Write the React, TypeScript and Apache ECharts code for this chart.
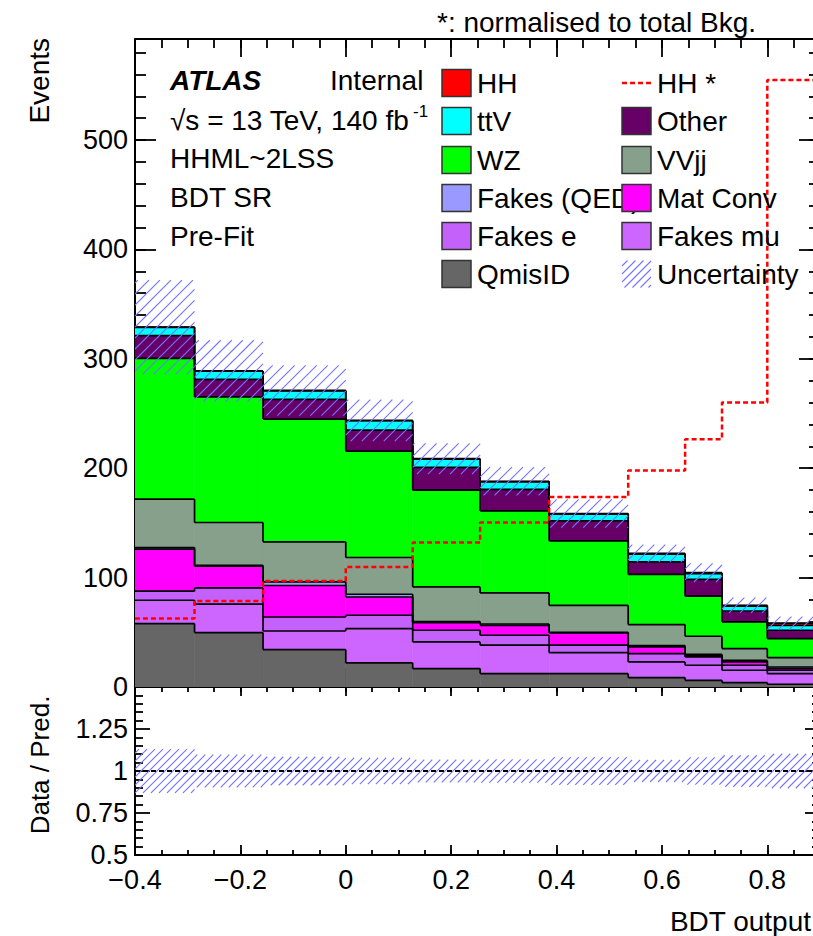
import React, { useEffect, useRef } from 'react';
import * as echarts from 'echarts';

// ---------------- data ----------------
const binEdges = [-0.4, -0.287, -0.157, 0.0, 0.127, 0.255, 0.386, 0.536, 0.644, 0.714, 0.8, 0.9];

const qmisID = [58.0, 49.8, 34.2, 22.0, 16.8, 12.3, 12.2, 8.6, 6.1, 4.0, 2.5];
const fakesMu = [21.3, 25.9, 17.0, 31.4, 24.4, 25.9, 19.2, 14.3, 13.8, 11.3, 9.7];
const fakesE = [8.3, 14.9, 12.8, 12.2, 10.7, 9.1, 6.8, 7.6, 7.6, 4.6, 3.1];
const matConv = [38.4, 19.8, 28.8, 16.7, 7.0, 9.1, 11.2, 6.1, 1.5, 3.0, 1.5];
const fakesQED = [1.5, 0.9, 3.3, 2.5, 0.9, 1.2, 0.6, 1.3, 0.9, 1.5, 1.5];
const vvjj = [44.2, 39.1, 36.6, 33.6, 31.7, 28.4, 24.7, 19.2, 16.5, 10.7, 8.6];
const wz = [128.7, 114.9, 112.2, 97.2, 88.5, 75.0, 58.9, 45.9, 36.6, 24.4, 17.4];
const other = [20.8, 15.9, 18.0, 19.3, 20.8, 19.6, 18.3, 11.4, 15.3, 10.0, 7.6];
const ttV = [7.6, 7.6, 7.9, 8.5, 7.5, 7.0, 6.1, 7.0, 5.4, 4.3, 4.5];
const hh = [0.2, 0.2, 0.3, 0.3, 0.4, 0.5, 0.6, 0.7, 0.8, 0.9, 2.0];

const hhNorm = [62.6, 78.7, 96.9, 109.8, 132.0, 150.4, 173.8, 198.0, 226.6, 260.0, 555.0];
const uncertainty = [43, 28, 23, 19, 14, 13, 13, 8, 8.5, 7, 6];

const yMainTicks = [0, 100, 200, 300, 400, 500];
const yRatioTicks = [0.5, 0.75, 1, 1.25];

// ---------------- styling ----------------
const FONT = '"Liberation Sans", Arial, Helvetica, sans-serif';
const HATCH = '#7474ff';
const XMIN = -0.4;
const XMAX = 0.9;
const YMAX = 592.4;

const COLORS: Record<string, string> = {
  'QmisID': '#666666',
  'Fakes mu': '#cc66ff',
  'Fakes e': '#c561fb',
  'Mat Conv': '#ff00ff',
  'Fakes (QED)': '#9999ff',
  'VVjj': '#86a08c',
  'WZ': '#00ff00',
  'Other': '#660066',
  'ttV': '#00ffff',
  'HH': '#ff0000',
};

const stackOrder: { name: string; values: number[] }[] = [
  { name: 'QmisID', values: qmisID },
  { name: 'Fakes mu', values: fakesMu },
  { name: 'Fakes e', values: fakesE },
  { name: 'Mat Conv', values: matConv },
  { name: 'Fakes (QED)', values: fakesQED },
  { name: 'VVjj', values: vvjj },
  { name: 'WZ', values: wz },
  { name: 'Other', values: other },
  { name: 'ttV', values: ttV },
  { name: 'HH', values: hh },
];

function hatchSegments(x0: number, y0: number, x1: number, y1: number, step: number) {
  const segs: number[][] = [];
  const kStart = Math.ceil((x0 + y0) / step);
  const kEnd = Math.floor((x1 + y1) / step);
  for (let k = kStart; k <= kEnd; k++) {
    const c = k * step;
    const xa = Math.max(x0, c - y1);
    const xb = Math.min(x1, c - y0);
    if (xb - xa > 0.5) segs.push([xa, c - xa, xb, c - xb]);
  }
  return segs;
}

function buildOption() {
  const nb = binEdges.length - 1;
  let base = new Array(nb).fill(0);
  const series: any[] = [];

  stackOrder.forEach((layer) => {
    const tops = base.map((b: number, i: number) => b + layer.values[i]);
    const data = layer.values.map((_, i) => [
      binEdges[i], binEdges[i + 1], base[i], tops[i], i > 0 ? tops[i - 1] : tops[i],
    ]);
    base = tops;
    const color = COLORS[layer.name];
    series.push({
      type: 'custom',
      name: layer.name,
      xAxisIndex: 0,
      yAxisIndex: 0,
      data,
      encode: { x: [0, 1], y: [2, 3] },
      clip: true,
      renderItem: (params: any, api: any) => {
        const x0 = api.value(0), x1 = api.value(1), b = api.value(2), t = api.value(3), pt = api.value(4);
        const bl = api.coord([x0, b]);
        const tr = api.coord([x1, t]);
        const pv = api.coord([x0, pt]);
        const children: any[] = [
          {
            type: 'rect',
            shape: { x: bl[0], y: tr[1], width: tr[0] - bl[0], height: bl[1] - tr[1] },
            style: { fill: color, stroke: color, lineWidth: 0.6 },
            z2: 1,
          },
          {
            type: 'line',
            shape: { x1: bl[0], y1: tr[1], x2: tr[0], y2: tr[1] },
            style: { stroke: '#000', lineWidth: 1.7 },
            z2: 10,
          },
        ];
        if (params.dataIndex > 0) {
          children.push({
            type: 'line',
            shape: { x1: bl[0], y1: pv[1], x2: bl[0], y2: tr[1] },
            style: { stroke: '#000', lineWidth: 1.7 },
            z2: 10,
          });
        }
        return { type: 'group', children };
      },
    });
  });

  const totals = base;

  // uncertainty band, main panel
  series.push({
    type: 'custom',
    name: 'Uncertainty',
    xAxisIndex: 0,
    yAxisIndex: 0,
    data: totals.map((t: number, i: number) => [binEdges[i], binEdges[i + 1], t - uncertainty[i], t + uncertainty[i]]),
    encode: { x: [0, 1], y: [2, 3] },
    clip: true,
    renderItem: (params: any, api: any) => {
      const a = api.coord([api.value(0), api.value(3)]);
      const b = api.coord([api.value(1), api.value(2)]);
      const segs = hatchSegments(a[0], a[1], b[0], b[1], 11);
      return {
        type: 'group',
        children: segs.map((s) => ({
          type: 'line',
          shape: { x1: s[0], y1: s[1], x2: s[2], y2: s[3] },
          style: { stroke: HATCH, lineWidth: 1.1 },
          z2: 20,
        })),
      };
    },
  });

  // HH normalised, dashed step line
  const hhPts: number[][] = hhNorm.map((v, i) => [binEdges[i], v]);
  hhPts.push([binEdges[nb], hhNorm[nb - 1]]);
  series.push({
    type: 'line',
    name: 'HH *',
    xAxisIndex: 0,
    yAxisIndex: 0,
    data: hhPts,
    step: 'end',
    symbol: 'none',
    clip: true,
    z: 5,
    lineStyle: { color: '#ff0000', width: 2.5, type: [5, 3] },
  });

  // ratio band
  series.push({
    type: 'custom',
    name: 'RatioUnc',
    xAxisIndex: 4,
    yAxisIndex: 4,
    data: totals.map((t: number, i: number) => {
      const r = uncertainty[i] / t;
      return [binEdges[i], binEdges[i + 1], 1 - r, 1 + r];
    }),
    encode: { x: [0, 1], y: [2, 3] },
    clip: true,
    renderItem: (params: any, api: any) => {
      const a = api.coord([api.value(0), api.value(3)]);
      const b = api.coord([api.value(1), api.value(2)]);
      const segs = hatchSegments(a[0], a[1], b[0], b[1], 8);
      return {
        type: 'group',
        children: segs.map((s) => ({
          type: 'line',
          shape: { x1: s[0], y1: s[1], x2: s[2], y2: s[3] },
          style: { stroke: HATCH, lineWidth: 1.1 },
          z2: 20,
        })),
      };
    },
  });

  series.push({
    type: 'line',
    name: 'RatioOne',
    xAxisIndex: 4,
    yAxisIndex: 4,
    data: [[binEdges[0], 1], [binEdges[nb], 1]],
    symbol: 'none',
    z: 6,
    lineStyle: { color: '#000', width: 2, type: [5, 3] },
  });

  const tickStyle = { color: '#000', width: 1.8 };
  const labelStyle = { fontFamily: FONT, fontSize: 27, color: '#000' };

  const xAxisDef = (grid: number, pos: string, interval: number, len: number, line: boolean, labels: boolean) => ({
    type: 'value',
    gridIndex: grid,
    position: pos,
    min: XMIN,
    max: XMAX,
    interval,
    axisLine: { show: line, onZero: false, lineStyle: { color: '#000', width: 2 } },
    axisTick: { show: true, inside: true, length: len, lineStyle: tickStyle },
    axisLabel: labels
      ? {
          show: true,
          margin: 11,
          showMaxLabel: false,
          ...labelStyle,
          formatter: (v: number) => {
            const r = Math.round(v * 10) / 10;
            if (r === 0) return '0';
            return r < 0 ? '\u2212' + Math.abs(r) : String(r);
          },
        }
      : { show: false },
    splitLine: { show: false },
  });

  const xAxis = [
    xAxisDef(0, 'bottom', 0.2, 19, true, false),
    xAxisDef(0, 'bottom', 0.05, 10, false, false),
    xAxisDef(0, 'top', 0.2, 18, true, false),
    xAxisDef(0, 'top', 0.05, 9, false, false),
    xAxisDef(1, 'bottom', 0.2, 10, true, true),
    xAxisDef(1, 'bottom', 0.05, 5, false, false),
    xAxisDef(1, 'top', 0.2, 9, true, false),
    xAxisDef(1, 'top', 0.05, 5, false, false),
  ];

  const yMainDef = (pos: string, interval: number, len: number, line: boolean, labels: boolean) => ({
    type: 'value',
    gridIndex: 0,
    position: pos,
    min: 0,
    max: YMAX,
    interval,
    axisLine: { show: line, onZero: false, lineStyle: { color: '#000', width: 2 } },
    axisTick: { show: true, inside: true, length: len, lineStyle: tickStyle },
    axisLabel: labels
      ? {
          show: true,
          margin: 7,
          showMaxLabel: false,
          ...labelStyle,
          formatter: (v: number) => (yMainTicks.indexOf(Math.round(v)) >= 0 ? String(Math.round(v)) : ''),
        }
      : { show: false },
    splitLine: { show: false },
  });

  const yRatioDef = (pos: string, labels: boolean) => ({
    type: 'value',
    gridIndex: 1,
    position: pos,
    min: 0.5,
    max: 1.5,
    interval: 0.25,
    axisLine: { show: true, onZero: false, lineStyle: { color: '#000', width: 2 } },
    axisTick: { show: true, inside: true, length: 15, lineStyle: tickStyle },
    minorTick: { show: true, splitNumber: 5, length: 8, lineStyle: tickStyle },
    axisLabel: labels
      ? {
          show: true,
          margin: 7,
          showMaxLabel: false,
          ...labelStyle,
          formatter: (v: number) => {
            const r = Math.round(v * 100) / 100;
            return yRatioTicks.indexOf(r) >= 0 ? String(r) : '';
          },
        }
      : { show: false },
    splitLine: { show: false },
  });

  const yAxis = [
    yMainDef('left', 100, 21, true, true),
    yMainDef('left', 20, 11, false, false),
    yMainDef('right', 100, 21, true, false),
    yMainDef('right', 20, 11, false, false),
    yRatioDef('left', true),
    yRatioDef('right', false),
  ];

  // ---------------- graphic: texts and legend ----------------
  const txt = (x: number, y: number, text: string, extra: any = {}, el: any = {}) => ({
    type: 'text',
    x,
    y,
    z: 100,
    ...el,
    style: {
      text,
      fontFamily: FONT,
      fontSize: 28,
      fill: '#000',
      textAlign: 'left',
      textVerticalAlign: 'middle',
      ...extra,
    },
  });

  const graphics: any[] = [];
  graphics.push(txt(437, 22, '*: normalised to total Bkg.'));
  graphics.push(txt(170, 80, 'ATLAS', { fontWeight: 'bold', fontStyle: 'italic' }));
  graphics.push(txt(330, 80, 'Internal'));
  graphics.push(txt(170, 120, '\u221As = 13 TeV, 140 fb'));
  graphics.push(txt(413, 111, '-1', { fontSize: 17 }));
  graphics.push(txt(170, 158, 'HHML~2LSS'));
  graphics.push(txt(170, 197, 'BDT SR'));
  graphics.push(txt(170, 236, 'Pre-Fit'));
  graphics.push(txt(39, 38, 'Events', { textAlign: 'right' }, { rotation: Math.PI / 2 }));
  graphics.push(txt(40, 765, 'Data / Pred.', { textAlign: 'center', fontSize: 26 }, { rotation: Math.PI / 2 }));
  graphics.push(txt(811, 921, 'BDT output', { textAlign: 'right' }));

  const rowsY = [83, 121, 160, 198, 236, 274];
  const col1 = ['HH', 'ttV', 'WZ', 'Fakes (QED)', 'Fakes e', 'QmisID'];
  const col2 = ['HH *', 'Other', 'VVjj', 'Mat Conv', 'Fakes mu', 'Uncertainty'];
  const boxW = 29, boxH = 27;
  const cols = [
    { names: col1, bx: 442, tx: 477 },
    { names: col2, bx: 622, tx: 657 },
  ];
  cols.forEach((col) => {
    col.names.forEach((name, r) => {
      const cy = rowsY[r];
      graphics.push(txt(col.tx, cy, name, {}, { z: 100 }));
      if (name === 'HH *') {
        graphics.push({
          type: 'line',
          z: 110,
          shape: { x1: col.bx, y1: cy, x2: col.bx + boxW, y2: cy },
          style: { stroke: '#ff0000', lineWidth: 2.5, lineDash: [5, 3] },
        });
      } else if (name === 'Uncertainty') {
        hatchSegments(col.bx, cy - boxH / 2, col.bx + boxW, cy + boxH / 2, 8).forEach((s) => {
          graphics.push({
            type: 'line',
            z: 110,
            shape: { x1: s[0], y1: s[1], x2: s[2], y2: s[3] },
            style: { stroke: HATCH, lineWidth: 1.1 },
          });
        });
      } else {
        graphics.push({
          type: 'rect',
          z: 110,
          shape: { x: col.bx, y: cy - boxH / 2, width: boxW, height: boxH },
          style: { fill: COLORS[name], stroke: '#333', lineWidth: 1.5 },
        });
      }
    });
  });

  return {
    animation: false,
    backgroundColor: '#ffffff',
    grid: [
      { left: 135, top: 39, width: 685, height: 648, containLabel: false, outerBoundsMode: 'none' },
      { left: 135, top: 687, width: 685, height: 168, containLabel: false, outerBoundsMode: 'none' },
    ],
    xAxis,
    yAxis,
    series,
    graphic: graphics,
  };
}

export default function App() {
  const ref = useRef<HTMLDivElement>(null);
  useEffect(() => {
    document.body.style.margin = '0';
    document.body.style.overflow = 'hidden';
    if (!ref.current) return;
    const chart = echarts.init(ref.current, undefined, { renderer: 'svg' });
    chart.setOption(buildOption() as any);
    return () => chart.dispose();
  }, []);
  return <div ref={ref} style={{ width: 813, height: 936, overflow: 'hidden' }} />;
}
